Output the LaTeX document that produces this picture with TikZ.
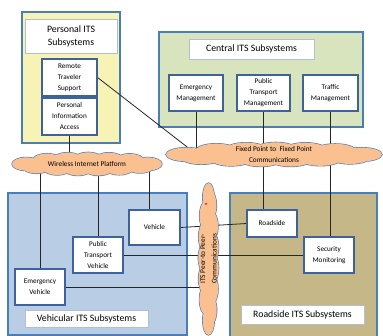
\documentclass[tikz,border=0pt]{standalone}
\usepackage{fontspec}
\setmainfont{Carlito}
\definecolor{yellowbg}{RGB}{247,243,181}
\definecolor{greenbg}{RGB}{215,228,189}
\definecolor{bluebg}{RGB}{185,205,229}
\definecolor{tanbg}{RGB}{198,183,136}
\definecolor{cloudfill}{RGB}{250,192,144}
\definecolor{frameblue}{RGB}{74,126,187}
\definecolor{boxblue}{RGB}{62,98,155}
\definecolor{titlegrey}{RGB}{180,190,205}
\pgfdeclarelayer{back}
\pgfdeclarelayer{wires}
\pgfsetlayers{back,wires,main}
\tikzset{
  area/.style={draw=frameblue,line width=1.2pt,inner sep=0pt},
  unit/.style={draw=boxblue,fill=white,line width=1.1pt,inner sep=1pt,align=center,font=\fontsize{7.2}{11}\selectfont},
  heading/.style={draw=titlegrey,fill=white,line width=0.6pt,inner sep=1pt,align=center,font=\fontsize{9.8}{13}\selectfont},
  puffedge/.style={draw=frameblue,line width=1.3pt},
  puffbody/.style={fill=cloudfill},
  cloudtext/.style={inner sep=0pt,align=center,font=\fontsize{7.3}{11.5}\selectfont},
  wire/.style={draw=black!85,line width=0.8pt}
}
% lobes of a cloud: centre x, centre y, half width, half height
\newcommand{\cloudlobes}[4]{
  foreach \u in {-1,-0.66,-0.32,0.02,0.36,0.7,1} {({#1+0.81*#3*\u},{#2-0.42*#4*sqrt(abs(1-\u*\u))}) ellipse ({0.19*#3} and {0.55*#4})}
  foreach \u in {-0.83,-0.49,-0.15,0.19,0.53,0.87} {({#1+0.81*#3*\u},{#2+0.42*#4*sqrt(abs(1-\u*\u))}) ellipse ({0.19*#3} and {0.55*#4})}
  (#1,#2) ellipse ({0.8*#3} and {0.55*#4})}
\newcommand{\puffcloud}[4]{\draw[puffedge] \cloudlobes{#1}{#2}{#3}{#4}; \fill[puffbody] \cloudlobes{#1}{#2}{#3}{#4};}
\begin{document}
\begin{tikzpicture}[x=1pt,y=-1pt]
\useasboundingbox (0,0) rectangle (383,336);
\begin{pgfonlayer}{back}
\node [area,fill=yellowbg,minimum width=98,minimum height=131] (personal) at (71,77.5) {};
\node [area,fill=greenbg,minimum width=204,minimum height=95] (central) at (261,79.5) {};
\node [area,fill=bluebg,minimum width=179,minimum height=142] (vehicular) at (97.5,264) {};
\node [area,fill=tanbg,minimum width=147,minimum height=145] (roadsidearea) at (303.5,265.5) {};
\end{pgfonlayer}
\node [heading,minimum width=92,minimum height=34] (personaltitle) at (71,36) {Personal ITS\\Subsystems};
\node [unit,minimum width=55,minimum height=37] (remote) at (69.5,77.5) {Remote\\Traveler\\Support};
\node [unit,minimum width=55,minimum height=37] (persinfo) at (69.5,116.5) {Personal\\Information\\Access};
\node [heading,minimum width=125,minimum height=20] (centraltitle) at (251.5,49) {Central ITS Subsystems};
\node [unit,minimum width=54,minimum height=36] (emmgmt) at (196,93) {Emergency\\Management};
\node [unit,minimum width=53,minimum height=36] (ptmgmt) at (263.5,93) {Public\\Transport\\Management};
\node [unit,minimum width=55,minimum height=36] (trafmgmt) at (330.5,93) {Traffic\\Management};
\node [unit,minimum width=51,minimum height=35] (vehicle) at (154.5,227.5) {Vehicle};
\node [unit,minimum width=50,minimum height=36] (ptvehicle) at (98,255) {Public\\Transport\\Vehicle};
\node [unit,minimum width=50,minimum height=36] (emvehicle) at (40,287) {Emergency\\Vehicle};
\node [heading,minimum width=123,minimum height=17] (vehtitle) at (86.5,318.5) {Vehicular ITS Subsystems};
\node [unit,minimum width=50,minimum height=27] (roadside) at (272,223.5) {Roadside};
\node [unit,minimum width=50,minimum height=36] (secmon) at (329,255) {Security\\Monitoring};
\node [heading,minimum width=123,minimum height=19] (rstitle) at (302.5,314.5) {Roadside ITS Subsystems};
\puffcloud{274}{154.5}{108}{12.5}
\node [cloudtext,minimum width=218,minimum height=25] (fixed) at (274,154.5) {Fixed Point to\ \ Fixed Point\\Communications};
\puffcloud{87}{164}{75}{12}
\node [cloudtext,minimum width=150,minimum height=24] (wireless) at (87,164) {Wireless Internet Platform};
\begin{scope}[shift={(208.5,259)},rotate=90]
\puffcloud{0}{0}{76}{10.5}
\end{scope}
\node [cloudtext,rotate=90,minimum width=152,minimum height=21] (peer) at (208.5,259) {ITS Peer-to Peer-\\Communications};
\fill[red] (206,204) circle (1);
\begin{pgfonlayer}{wires}
\draw[wire] (remote.east)--([xshift=32pt]fixed.west);
\draw[wire] (persinfo.south)--(persinfo.south |- wireless.center);
\draw[wire] (emmgmt.south)--(emmgmt.south |- fixed.center);
\draw[wire] (ptmgmt.south)--(ptmgmt.south |- roadside.north);
\draw[wire] (trafmgmt.south)--(trafmgmt.south |- secmon.north);
\draw[wire] (emvehicle.north)--(emvehicle.north |- wireless.center);
\draw[wire] (ptvehicle.north)--(ptvehicle.north |- wireless.center);
\draw[wire] ([xshift=-5pt]vehicle.north)--([xshift=-5pt]vehicle.north |- wireless.center);
\draw[wire] (vehicle.east)--(roadside.west);
\draw[wire] (ptvehicle.east)--(secmon.west);
\draw[wire] (emvehicle.east)--(emvehicle.east -| peer.center);
\end{pgfonlayer}
\end{tikzpicture}
\end{document}
